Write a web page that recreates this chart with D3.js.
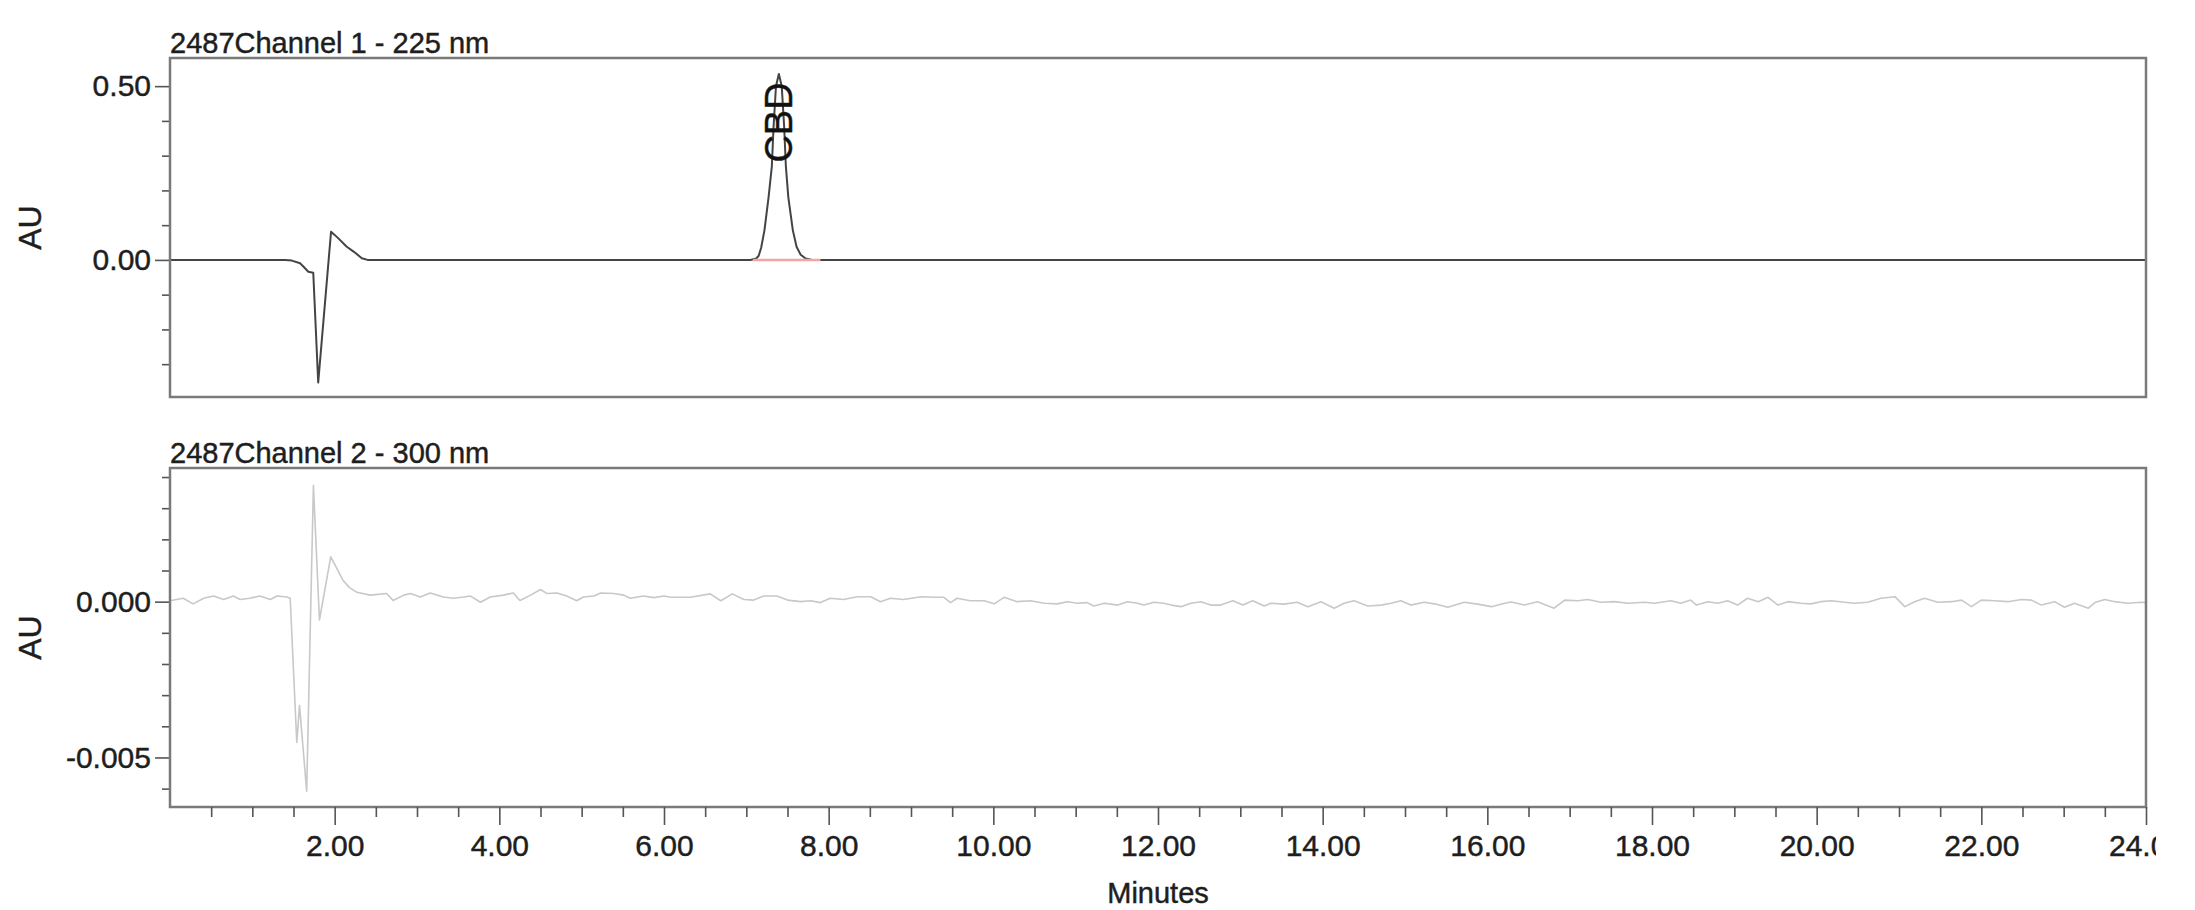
<!DOCTYPE html>
<html>
<head>
<meta charset="utf-8">
<script src="https://cdn.jsdelivr.net/npm/d3@7"></script>
<style>
  body { margin: 0; background: #fff; }
  svg { display: block; }
  text { stroke: #1e1e1e; stroke-width: 0.45px; }
</style>
</head>
<body>
<div id="chart"></div>
<script>
var width = 2195,
    height = 910;

// channel 1 (225 nm): [minutes, AU]
var ch1Trace = [
    [0, 0], [1.40, 0], [1.48, -0.002], [1.58, -0.0095], [1.64, -0.024], [1.68, -0.034],
    [1.74, -0.037], [1.80, -0.353], [1.956, 0.081], [2.00, 0.072], [2.045, 0.062],
    [2.147, 0.038], [2.23, 0.024], [2.33, 0.005], [2.40, 0],
    [7.05, 0], [7.12, 0.004], [7.15, 0.012], [7.18, 0.035], [7.22, 0.085], [7.27, 0.18],
    [7.31, 0.27], [7.33, 0.38], [7.36, 0.50], [7.395, 0.535], [7.43, 0.50], [7.46, 0.38],
    [7.48, 0.27], [7.51, 0.18], [7.565, 0.085], [7.61, 0.038], [7.66, 0.015], [7.72, 0.004],
    [7.80, 0], [24, 0]
];

// channel 2 (300 nm): [minutes, AU x 1e-5]
var ch2Trace = [
    [0, 3], [0.08, 7], [0.16, 11], [0.28, -7], [0.41, 11], [0.53, 18], [0.65, 7], [0.77, 18],
    [0.85, 7], [0.97, 11], [1.09, 18], [1.22, 7], [1.30, 18], [1.42, 15], [1.46, 11],
    [1.54, -452], [1.573, -333], [1.66, -608], [1.742, 373], [1.815, -59], [1.952, 144],
    [2.02, 110], [2.10, 69], [2.18, 45], [2.27, 30], [2.43, 21], [2.63, 26], [2.71, 4],
    [2.84, 21], [2.92, 26], [3.04, 15], [3.16, 28], [3.32, 15], [3.44, 11], [3.57, 15],
    [3.65, 18], [3.77, -2], [3.89, 15], [4.05, 21], [4.17, 28], [4.25, 4], [4.38, 21],
    [4.50, 39], [4.58, 26], [4.70, 28], [4.82, 18], [4.94, 3], [5.02, 15], [5.15, 18],
    [5.23, 28], [5.39, 26], [5.51, 21], [5.59, 11], [5.75, 18], [5.88, 13], [6.00, 18],
    [6.08, 14], [6.32, 14], [6.56, 25], [6.69, 3], [6.83, 25], [6.97, 7], [7.09, 5],
    [7.21, 18], [7.37, 18], [7.50, 5], [7.66, 0], [7.78, 3], [7.90, -3], [8.02, 11],
    [8.18, 7], [8.35, 16], [8.51, 16], [8.63, 0], [8.75, 11], [8.91, 7], [9.12, 16],
    [9.28, 14], [9.40, 14], [9.48, -3], [9.56, 11], [9.72, 3], [9.89, 3], [10.01, -7],
    [10.13, 14], [10.29, 0], [10.45, 3], [10.62, -5], [10.78, -7], [10.90, 0], [11.02, -5],
    [11.14, -3], [11.22, -14], [11.35, -5], [11.51, -11], [11.63, 0], [11.75, -5],
    [11.83, -11], [11.95, -2], [12.07, -5], [12.16, -11], [12.28, -16], [12.40, -5],
    [12.52, 0], [12.64, -11], [12.76, -11], [12.91, 3], [13.03, -11], [13.15, 3],
    [13.29, -14], [13.37, -5], [13.53, -8], [13.69, -2], [13.82, -16], [13.98, 0],
    [14.14, -21], [14.26, -5], [14.38, 3], [14.55, -14], [14.71, -11], [14.83, -5],
    [14.95, 3], [15.07, -11], [15.23, -2], [15.36, -7], [15.52, -18], [15.72, -2],
    [15.88, -8], [16.05, -16], [16.21, -5], [16.29, -1], [16.45, -11], [16.61, 0],
    [16.81, -21], [16.94, 5], [17.10, 3], [17.22, 7], [17.38, -2], [17.54, 0], [17.71, -5],
    [17.91, -2], [18.03, -5], [18.23, 3], [18.35, -5], [18.47, 5], [18.54, -11], [18.68, 0],
    [18.80, -5], [18.92, 3], [19.04, -11], [19.16, 11], [19.29, 0], [19.41, 14], [19.53, -11],
    [19.65, 0], [19.81, -5], [19.93, -7], [20.05, 0], [20.18, 3], [20.34, -2], [20.46, -5],
    [20.62, -2], [20.78, 11], [20.95, 16], [21.07, -16], [21.19, 0], [21.31, 11], [21.47, -2],
    [21.64, 0], [21.76, 5], [21.88, -16], [22.00, 5], [22.16, 3], [22.32, 0], [22.49, 7],
    [22.61, 5], [22.73, -11], [22.89, 0], [23.01, -18], [23.13, -5], [23.30, -21],
    [23.38, -3], [23.50, 7], [23.62, 0], [23.78, -5], [23.94, -2], [24, -3]
];

// integrated peak in channel 1
var peakName = "CBD",
    peakTime = 7.395,
    peakLabelAu = 0.28,
    peakStart = 7.08,
    peakEnd = 7.90;

// tick values
var xMajor = [2, 4, 6, 8, 10, 12, 14, 16, 18, 20, 22, 24];
var xMinor = d3.range(0.5, 24, 0.5).filter(function (d) { return d % 2 !== 0; });
var ch1Major = [0, 0.5],
    ch1Minor = [-0.3, -0.2, -0.1, 0.1, 0.2, 0.3, 0.4];
var ch2Major = [-0.005, 0],
    ch2Minor = [-0.006, -0.004, -0.003, -0.002, -0.001, 0.001, 0.002, 0.003, 0.004];

var font = "Liberation Sans, Arial, Helvetica, sans-serif";
var left = 170, right = 2146;

var svg = d3.select("#chart").append("svg")
    .attr("width", width)
    .attr("height", height)
    .attr("font-family", font);

svg.append("clipPath").attr("id", "page")
    .append("rect").attr("width", 2156).attr("height", height);

var x = d3.scaleLinear().domain([0, 24]).range([left, right]);

var panels = [
    { title: "2487Channel 1 - 225 nm", top: 58, bottom: 397, domain: [-0.3945, 0.581],
      data: ch1Trace.map(function (d) { return [d[0], d[1]]; }),
      major: ch1Major, minor: ch1Minor, fmt: function (d) { return d.toFixed(2); },
      stroke: "#444", width: 2 },
    { title: "2487Channel 2 - 300 nm", top: 468, bottom: 807, domain: [-0.00659, 0.00429],
      data: ch2Trace.map(function (d) { return [d[0], d[1] * 1e-5]; }),
      major: ch2Major, minor: ch2Minor, fmt: function (d) { return d.toFixed(3); },
      stroke: "#c8c8c8", width: 1.6 }
];

panels.forEach(function (p, i) {
    var y = d3.scaleLinear().domain(p.domain).range([p.bottom, p.top]);
    p.y = y;
    var g = svg.append("g");

    g.append("text")
        .attr("x", left)
        .attr("y", p.top - 5)
        .attr("font-size", 29)
        .attr("fill", "#1e1e1e")
        .text(p.title);

    var line = d3.line()
        .x(function (d) { return x(d[0]); })
        .y(function (d) { return y(d[1]); });

    g.append("path")
        .datum(p.data)
        .attr("fill", "none")
        .attr("stroke", p.stroke)
        .attr("stroke-width", p.width)
        .attr("stroke-linejoin", "round")
        .attr("d", line);

    // minor and major y ticks
    var yMinor = g.append("g")
        .attr("transform", "translate(" + left + ",0)")
        .call(d3.axisLeft(y).tickValues(p.minor).tickSize(8).tickFormat(""));
    var yMajor = g.append("g")
        .attr("transform", "translate(" + left + ",0)")
        .call(d3.axisLeft(y).tickValues(p.major).tickSize(15).tickPadding(4).tickFormat(p.fmt));
    [yMinor, yMajor].forEach(function (a) {
        a.select(".domain").remove();
        a.selectAll("line").attr("stroke", "#555").attr("stroke-width", 1.6);
        a.selectAll("text").attr("font-family", font).attr("font-size", 30).attr("fill", "#1e1e1e");
    });

    g.append("text")
        .attr("transform", "translate(30," + ((p.top + p.bottom) / 2) + ") rotate(-90)")
        .attr("dy", "0.35em")
        .attr("text-anchor", "middle")
        .attr("font-size", 32)
        .attr("fill", "#1e1e1e")
        .text("AU");

    g.append("rect")
        .attr("x", left)
        .attr("y", p.top)
        .attr("width", right - left)
        .attr("height", p.bottom - p.top)
        .attr("fill", "none")
        .attr("stroke", "#7a7a7a")
        .attr("stroke-width", 2.5);
});

// peak annotation on channel 1
var y1 = panels[0].y;
svg.append("line")
    .attr("x1", x(peakStart))
    .attr("x2", x(peakEnd))
    .attr("y1", y1(0))
    .attr("y2", y1(0))
    .attr("stroke", "#f4a4a4")
    .attr("stroke-width", 2.5);

svg.append("text")
    .attr("transform", "translate(" + x(peakTime) + "," + y1(peakLabelAu) + ") rotate(-90)")
    .attr("dy", "0.35em")
    .attr("font-size", 38)
    .attr("fill", "#111")
    .text(peakName);

// x axis under channel 2
var axisY = panels[1].bottom;
var xa = svg.append("g").attr("clip-path", "url(#page)");
var xMin = xa.append("g")
    .attr("transform", "translate(0," + axisY + ")")
    .call(d3.axisBottom(x).tickValues(xMinor).tickSize(10).tickFormat(""));
var xMaj = xa.append("g")
    .attr("transform", "translate(0," + axisY + ")")
    .call(d3.axisBottom(x).tickValues(xMajor).tickSize(18).tickPadding(10)
        .tickFormat(function (d) { return d.toFixed(2); }));
[xMin, xMaj].forEach(function (a) {
    a.select(".domain").remove();
    a.selectAll("line").attr("stroke", "#555").attr("stroke-width", 1.6);
    a.selectAll("text").attr("font-family", font).attr("font-size", 30).attr("fill", "#1e1e1e");
});

svg.append("text")
    .attr("x", (left + right) / 2)
    .attr("y", 903)
    .attr("text-anchor", "middle")
    .attr("font-size", 29)
    .attr("fill", "#1e1e1e")
    .text("Minutes");
</script>
</body>
</html>
